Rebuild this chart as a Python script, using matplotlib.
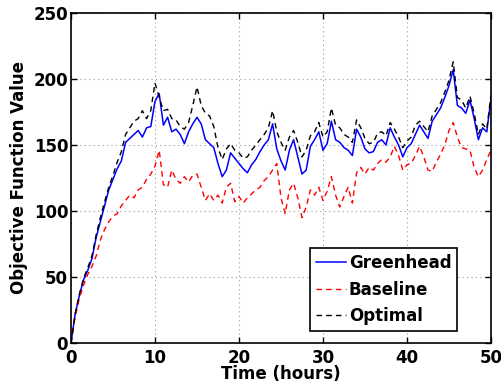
import numpy as np
import matplotlib
matplotlib.use('Agg')
import matplotlib.pyplot as plt

# values, one sample every half hour
greenhead = [0, 22, 36, 48, 55, 64, 80, 92, 104, 116,
             124, 132, 138, 152, 155, 158, 161, 156, 163, 164,
             183, 189, 165, 171, 160, 162, 158, 151, 160, 166,
             171, 166, 154, 151, 148, 136, 126, 131, 144, 140,
             136, 132, 129, 135, 139, 145, 150, 154, 166, 147,
             138, 131, 146, 154, 141, 128, 131, 149, 154, 160,
             146, 151, 168, 154, 152, 148, 146, 142, 162, 156,
             147, 144, 145, 152, 154, 150, 163, 156, 150, 141,
             148, 151, 158, 165, 160, 155, 168, 173, 178, 186,
             195, 207, 180, 178, 174, 184, 170, 154, 163, 160,
             185]
baseline = [0, 20, 34, 44, 52, 58, 66, 78, 86, 92,
            96, 98, 104, 108, 112, 110, 116, 118, 124, 128,
            134, 146, 120, 118, 131, 124, 121, 126, 122, 127,
            128, 118, 108, 113, 108, 112, 106, 118, 121, 107,
            111, 106, 110, 113, 116, 118, 123, 126, 131, 136,
            110, 98, 116, 121, 110, 95, 103, 116, 112, 118,
            108, 115, 126, 112, 103, 111, 118, 106, 129, 133,
            128, 133, 131, 136, 139, 137, 141, 149, 142, 131,
            135, 136, 142, 149, 141, 131, 130, 137, 143, 150,
            161, 167, 156, 148, 147, 146, 133, 126, 131, 139,
            146]
optimal = [0, 22, 37, 49, 57, 66, 82, 95, 107, 118,
           127, 137, 145, 158, 163, 168, 170, 176, 170, 176,
           197, 186, 176, 177, 170, 169, 164, 162, 167, 180,
           194, 180, 174, 172, 164, 148, 139, 147, 151, 146,
           144, 140, 141, 146, 150, 154, 158, 163, 176, 160,
           152, 146, 156, 161, 152, 141, 146, 157, 160, 167,
           156, 160, 178, 165, 163, 158, 156, 152, 169, 163,
           155, 151, 152, 159, 160, 157, 167, 162, 156, 148,
           153, 156, 165, 168, 164, 160, 172, 177, 182, 190,
           199, 213, 186, 184, 178, 187, 174, 158, 166, 162,
           188]

hours = np.arange(0, 50.5, 0.5)

plt.rcParams['font.family'] = 'DejaVu Sans'
plt.rcParams['font.weight'] = 'bold'

fig = plt.figure(figsize=(5.01, 3.89), dpi=100)
ax = fig.add_axes([0.1417, 0.1183, 0.8383, 0.8483])

ax.plot(hours, greenhead, color='b', lw=1.1, label='Greenhead')
ax.plot(hours, baseline, color='r', lw=1.0, ls=(0, (4, 3)), label='Baseline')
ax.plot(hours, optimal, color='k', lw=1.0, ls=(0, (4, 3)), label='Optimal')

ax.set_xlim(0, 50)
ax.set_ylim(0, 250)
ax.set_xticks([0, 10, 20, 30, 40, 50])
ax.set_yticks([0, 50, 100, 150, 200, 250])
ax.tick_params(direction='in', labelsize=12, width=1, length=4, top=True, right=True, pad=2)
ax.tick_params(axis='x', pad=4)
for lab in ax.get_xticklabels() + ax.get_yticklabels():
    lab.set_fontweight('bold')
ax.grid(True, ls=(0, (1, 3)), color='#999999', lw=0.8)
for s in ax.spines.values():
    s.set_linewidth(1.2)

ax.set_xlabel('Time (hours)', fontsize=12, fontweight='bold', labelpad=-1)
ax.set_ylabel('Objective Function Value', fontsize=12, fontweight='bold', labelpad=4)

leg = ax.legend(loc='lower right', bbox_to_anchor=(0.94, 0.012), fontsize=12,
                handlelength=1.8, fancybox=False, edgecolor='k', framealpha=1,
                borderpad=0.35, labelspacing=0.5, handletextpad=0.2)
leg.get_frame().set_linewidth(1.2)
for t in leg.get_texts():
    t.set_fontweight('bold')

fig.savefig('out.png', dpi=100)
